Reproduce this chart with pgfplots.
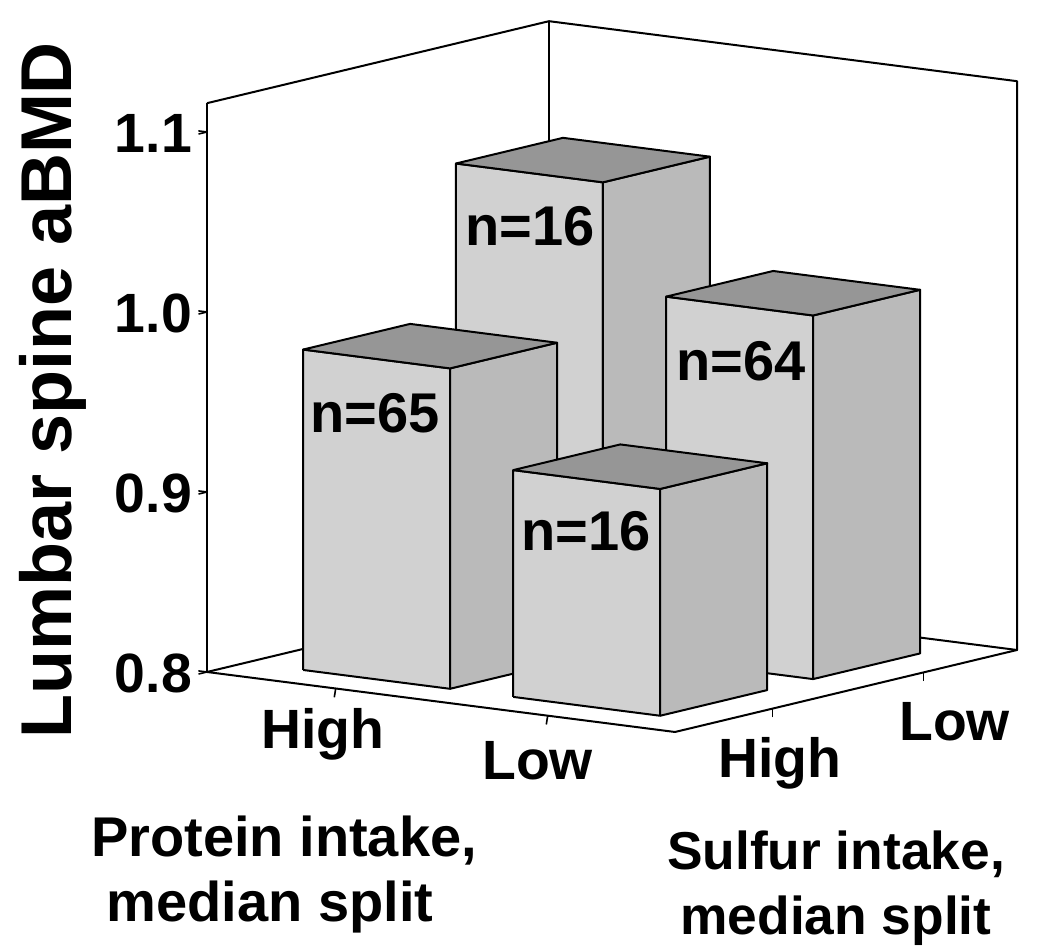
\documentclass[border=0pt]{standalone}
\usepackage{fontspec}
\setmainfont{Liberation Sans}
\usepackage{pgfplots}
\pgfplotsset{compat=1.18}
\definecolor{barfront}{gray}{0.82}
\definecolor{barside}{gray}{0.73}
\definecolor{bartop}{gray}{0.59}
\newcommand{\pxfont}[1]{\fontsize{#1}{#1}\selectfont\bfseries}
\newcommand{\lbl}[3]{\raisebox{#2}[0pt][0pt]{\makebox[0pt][l]{\kern#1\relax #3}}}
% one 3D bar: x0, x1, y0, y1, height
\newcommand{\onebar}[5]{%
 \addplot3[fill=barfront,draw=black,line width=1.5pt,line join=round,no markers,forget plot] coordinates {(#1,#3,0.8) (#2,#3,0.8) (#2,#3,#5) (#1,#3,#5) (#1,#3,0.8)};
 \addplot3[fill=barside,draw=black,line width=1.5pt,line join=round,no markers,forget plot] coordinates {(#2,#3,0.8) (#2,#4,0.8) (#2,#4,#5) (#2,#3,#5) (#2,#3,0.8)};
 \addplot3[fill=bartop,draw=black,line width=1.5pt,line join=round,no markers,forget plot] coordinates {(#1,#3,#5) (#2,#3,#5) (#2,#4,#5) (#1,#4,#5) (#1,#3,#5)};
}
\begin{document}
\begin{tikzpicture}[x=0.75pt,y=0.75pt]
\useasboundingbox (0,0) rectangle (1050,949);
\begin{axis}[
  at={(155.25pt,207.75pt)}, anchor=origin,
  x={(351pt,-45pt)}, y={(256.5pt,61.5pt)}, z={(0pt,1350pt)},
  xmin=0,xmax=1,ymin=0,ymax=1,zmin=0.8,zmax=1.116,
  axis x line*=bottom, axis y line*=left, axis z line*=left,
  axis line style={line width=1.5pt},
  major tick style={line width=1.2pt,black},
  major tick length=6.5pt,
  tick align=outside,
  xtick={0.275,0.728}, xticklabels={\lbl{-49.5pt}{-43.5pt}{High},\lbl{-42.75pt}{-46.25pt}{Low}},
  ytick={0.285,0.727}, yticklabels={\lbl{-47.25pt}{-51pt}{High},\lbl{-24.75pt}{-50.25pt}{Low}},
  ztick={0.8,0.9,1.0,1.1},
  x tick style={draw=none},
  /pgf/number format/assume math mode=true,
  /pgf/number format/fixed,/pgf/number format/fixed zerofill,/pgf/number format/precision=1,
  tick label style={font=\pxfont{41.5}},
  z tick label style={yshift=2.5pt,xshift=-1.5pt},
  x tick label style={anchor=center},
  y tick label style={anchor=center},
  clip=false,
]
\addplot3[draw=black,line width=1.5pt,line join=round,no markers,forget plot] coordinates {(0,0,1.116) (0,1,1.116) (1,1,1.116) (1,1,0.8) (0,1,0.8) (0,0,0.8)};
\addplot3[draw=black,line width=1.5pt,no markers,forget plot] coordinates {(0,1,0.8) (0,1,1.116)};
\addplot3[draw=black,line width=1.2pt,no markers,forget plot] coordinates {(0.275,0,0.8) (0.272,0,0.795)};
\addplot3[draw=black,line width=1.2pt,no markers,forget plot] coordinates {(0.728,0,0.8) (0.725,0,0.795)};
\onebar{0.122}{0.436}{0.561}{0.874}{1.061}
\onebar{0.571}{0.885}{0.561}{0.874}{1.002}
\onebar{0.122}{0.436}{0.114}{0.427}{0.978}
\onebar{0.571}{0.885}{0.114}{0.427}{0.926}
\end{axis}
\node[font=\pxfont{42},anchor=center] at (530,723) {n=16};
\node[font=\pxfont{42},anchor=center] at (375,536) {n=65};
\node[font=\pxfont{42},anchor=center] at (741,588) {n=64};
\node[font=\pxfont{42},anchor=center] at (586,418) {n=16};
\node[font=\pxfont{54},rotate=90,anchor=center] at (53,559) {Lumbar spine aBMD};
\node[font=\pxfont{42},anchor=center] at (284,108) {Protein intake,};
\node[font=\pxfont{42},anchor=center] at (270,42) {median split};
\node[font=\pxfont{40},anchor=center] at (836,95) {Sulfur intake,};
\node[font=\pxfont{40},anchor=center] at (836,28) {median split};
\end{tikzpicture}
\end{document}
